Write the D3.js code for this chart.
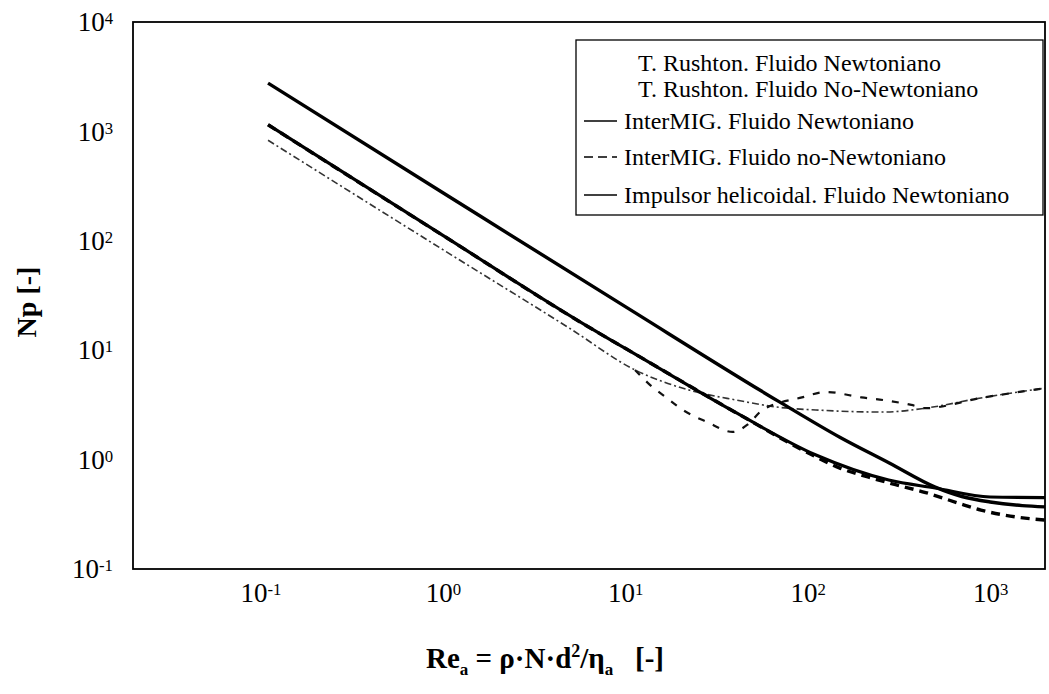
<!DOCTYPE html>
<html>
<head>
<meta charset="utf-8">
<script src="https://cdn.jsdelivr.net/npm/d3@7"></script>
<style>
  body { margin: 0; background: #fff; }
  svg { font-family: "Liberation Serif", "Times New Roman", serif; }
</style>
</head>
<body>
<svg id="chart" width="1049" height="694"></svg>
<script>
// tick values
var xTicks = [0.1, 1, 10, 100, 1000];
var yTicks = [0.1, 1, 10, 100, 1000, 10000];

// Np vs Re curves
var reHelical = [0.11, 1, 10, 70, 150, 280, 500, 700, 1000, 1500, 2000];
var npHelical = [2760, 275, 25, 3.37, 1.6, 0.93, 0.56, 0.46, 0.41, 0.38, 0.37];

var reMigN = [0.11, 1, 6.7, 10, 40.7, 111, 278, 500, 1000, 2000];
var npMigN = [1150, 112, 15.3, 10.4, 2.67, 1.10, 0.65, 0.55, 0.455, 0.45];

var reMigNN = [0.11, 1, 6.7, 10, 40.7, 106, 149, 216, 303, 443, 670, 891, 1368, 2000];
var npMigNN = [1150, 112, 15.3, 10.4, 2.67, 1.10, 0.84, 0.69, 0.59, 0.50, 0.40, 0.346, 0.30, 0.28];

var reRtN = [0.11, 1, 5, 11.3, 22.6, 40.7, 70, 111, 260, 440, 890, 2000];
var npRtN = [830, 83, 15.7, 6.6, 4.3, 3.5, 3.0, 2.84, 2.72, 2.95, 3.66, 4.5];

// non-newtonian Rushton: laminar part lies under the newtonian one, drawn from the split
var reRtNN = [11.3, 13.7, 16.9, 20.7, 28, 38.8, 47, 56.5, 93, 126, 197, 260, 370, 440, 890, 2000];
var npRtNN = [6.6, 4.8, 3.66, 2.84, 2.21, 1.79, 2.1, 2.84, 3.7, 4.15, 3.7, 3.5, 3.16, 2.95, 3.66, 4.5];

var legendLabels = [
  "T. Rushton. Fluido Newtoniano",
  "T. Rushton. Fluido No-Newtoniano",
  "InterMIG. Fluido Newtoniano",
  "InterMIG. Fluido no-Newtoniano",
  "Impulsor helicoidal. Fluido Newtoniano"
];

var svg = d3.select("#chart");

var plotL = 133, plotR = 1045, plotT = 22, plotB = 569;

var x = d3.scaleLog().domain([0.02, 2000]).range([plotL, plotR]);
var y = d3.scaleLog().domain([0.1, 10000]).range([plotB, plotT]);

function zip(re, np) {
  return re.map(function(d, i) { return [d, np[i]]; });
}

var series = [
  { data: zip(reRtN, npRtN),     width: 1.6, dash: "7,3,2,3", color: "#333" },
  { data: zip(reRtNN, npRtNN),   width: 2.2, dash: "7,9",     color: "#111" },
  { data: zip(reMigN, npMigN),   width: 3.2, dash: null,      color: "#000" },
  { data: zip(reMigNN, npMigNN), width: 3.4, dash: "9,6",     color: "#000" },
  { data: zip(reHelical, npHelical), width: 3.4, dash: null,  color: "#000" }
];

var line = d3.line()
    .x(function(d) { return x(d[0]); })
    .y(function(d) { return y(d[1]); })
    .curve(d3.curveMonotoneX);

svg.selectAll("path.curve")
    .data(series)
    .enter()
    .append("path")
    .attr("class", "curve")
    .attr("d", function(d) { return line(d.data); })
    .attr("fill", "none")
    .attr("stroke", function(d) { return d.color; })
    .attr("stroke-width", function(d) { return d.width; })
    .attr("stroke-dasharray", function(d) { return d.dash; })
    .attr("stroke-linejoin", "round");

// frame
svg.append("rect")
    .attr("x", plotL).attr("y", plotT)
    .attr("width", plotR - plotL).attr("height", plotB - plotT)
    .attr("fill", "none")
    .attr("stroke", "#000")
    .attr("stroke-width", 1.8);

function powLabel(sel) {
  sel.each(function(d) {
    var t = d3.select(this).text(null);
    t.append("tspan").text("10");
    t.append("tspan")
      .attr("dy", "-0.42em")
      .attr("font-size", "0.62em")
      .text(Math.round(Math.log10(d)));
  });
}

// x axis
var gx = svg.append("g")
    .attr("transform", "translate(0," + plotB + ")")
    .call(d3.axisBottom(x).tickValues(xTicks).tickSize(0).tickPadding(14));
gx.select(".domain").remove();
gx.selectAll("text")
    .attr("font-family", "Liberation Serif, serif")
    .attr("font-size", 27)
    .attr("fill", "#000")
    .call(powLabel);

// y axis
var gy = svg.append("g")
    .attr("transform", "translate(" + plotL + ",0)")
    .call(d3.axisLeft(y).tickValues(yTicks).tickSize(0).tickPadding(20));
gy.select(".domain").remove();
gy.selectAll("text")
    .attr("font-family", "Liberation Serif, serif")
    .attr("font-size", 27)
    .attr("fill", "#000")
    .call(powLabel);

// axis titles
var xt = svg.append("text")
    .attr("x", 545).attr("y", 668)
    .attr("text-anchor", "middle")
    .attr("font-size", 29)
    .attr("font-weight", "bold");
xt.append("tspan").text("Re");
xt.append("tspan").attr("dy", 7).attr("font-size", 17).text("a");
xt.append("tspan").attr("dy", -7).text(" = ρ·N·d");
xt.append("tspan").attr("dy", -11).attr("font-size", 18).text("2");
xt.append("tspan").attr("dy", 11).text("/η");
xt.append("tspan").attr("dy", 7).attr("font-size", 17).text("a");
xt.append("tspan").attr("dy", -7).text("\u00a0\u00a0\u00a0[-]");

svg.append("text")
    .attr("transform", "translate(36,302) rotate(-90)")
    .attr("text-anchor", "middle")
    .attr("font-size", 28)
    .attr("font-weight", "bold")
    .text("Np [-]");

// legend
var lg = svg.append("g");
lg.append("rect")
    .attr("x", 576).attr("y", 40)
    .attr("width", 1043 - 576).attr("height", 175)
    .attr("fill", "#fff")
    .attr("stroke", "#000")
    .attr("stroke-width", 1.3);

var rowY = [71, 97, 129, 165, 203];
var rowX = [638, 638, 624, 624, 624];
var samples = [null, null, { dash: null }, { dash: "9,5" }, { dash: null }];

legendLabels.forEach(function(lab, i) {
  if (samples[i]) {
    lg.append("line")
      .attr("x1", 584).attr("x2", 617)
      .attr("y1", rowY[i] - 8).attr("y2", rowY[i] - 8)
      .attr("stroke", "#000")
      .attr("stroke-width", 1.4)
      .attr("stroke-dasharray", samples[i].dash);
  }
  lg.append("text")
    .attr("x", rowX[i]).attr("y", rowY[i])
    .attr("font-size", 24)
    .text(lab);
});
</script>
</body>
</html>
